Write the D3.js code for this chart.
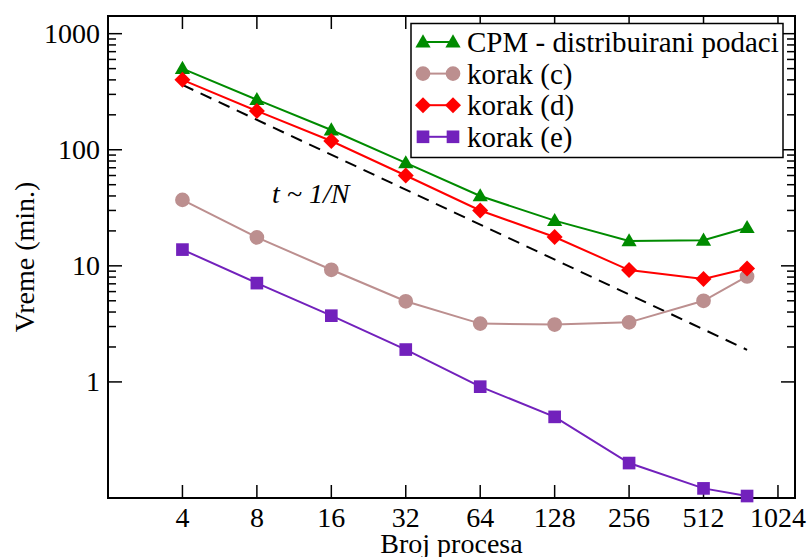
<!DOCTYPE html>
<html><head><meta charset="utf-8">
<script src="https://cdn.jsdelivr.net/npm/d3@7"></script>
<style>body{margin:0;background:#fff}svg{display:block}
svg text{font-family:"Liberation Serif","Times New Roman",Times,"DejaVu Serif",serif;}</style>
</head><body><svg id="c" width="809" height="557"></svg>
<script>
const procs = [4, 8, 16, 32, 64, 128, 256, 512, 768];
const cpm   = [500, 270, 148, 77, 40, 24.5, 16.4, 16.6, 21.3];
const korakC = [37, 17.6, 9.25, 4.95, 3.18, 3.12, 3.26, 5.0, 8.1];
const korakD = [400, 216, 119, 60, 30, 17.7, 9.2, 7.7, 9.5];
const korakE = [13.8, 7.1, 3.72, 1.9, 0.91, 0.50, 0.20, 0.121, 0.104];
const refN = [4, 768];
const refT = [362, 1.89];
const xTicks = [4, 8, 16, 32, 64, 128, 256, 512, 1024];
const yTicks = [1, 10, 100, 1000];
const seriesNames = ["CPM - distribuirani podaci", "korak (c)", "korak (d)", "korak (e)"];
const seriesColors = ["#008b00", "#bc8f8f", "#ff0000", "#7221bc"];
const seriesShapes = ["triangle", "circle", "diamond", "square"];
const seriesData = [cpm, korakC, korakD, korakE];

const svg = d3.select("#c");
const L = 108, T = 16, R = 795, B = 498;
const x = d3.scaleLog().base(2).domain([2, 1200]).range([L, R]);
const y = d3.scaleLog().domain([0.1, 1420]).range([B, T]);

const minor = [];
[1, 10, 100].forEach(d => { for (let k = 2; k <= 9; k++) minor.push(d * k); });

const g = svg.append("g");
minor.forEach(v => {
  g.append("line").attr("x1", L).attr("x2", L + 8).attr("y1", y(v)).attr("y2", y(v)).attr("stroke", "#000").attr("stroke-width", 1.5);
  g.append("line").attr("x1", R).attr("x2", R - 8).attr("y1", y(v)).attr("y2", y(v)).attr("stroke", "#000").attr("stroke-width", 1.5);
});
yTicks.forEach(v => {
  g.append("line").attr("x1", L).attr("x2", L + 14).attr("y1", y(v)).attr("y2", y(v)).attr("stroke", "#000").attr("stroke-width", 1.5);
  g.append("line").attr("x1", R).attr("x2", R - 14).attr("y1", y(v)).attr("y2", y(v)).attr("stroke", "#000").attr("stroke-width", 1.5);
  g.append("text").attr("x", L - 8).attr("y", y(v)).attr("dy", "0.34em").attr("text-anchor", "end")
    .attr("font-size", 28).text(v);
});
xTicks.forEach(v => {
  g.append("line").attr("x1", x(v)).attr("x2", x(v)).attr("y1", B).attr("y2", B - 13).attr("stroke", "#000").attr("stroke-width", 1.5);
  g.append("line").attr("x1", x(v)).attr("x2", x(v)).attr("y1", T).attr("y2", T + 13).attr("stroke", "#000").attr("stroke-width", 1.5);
  g.append("text").attr("x", x(v)).attr("y", 527).attr("text-anchor", "middle")
    .attr("font-size", 28).text(v);
});

g.append("rect").attr("x", L).attr("y", T).attr("width", R - L).attr("height", B - T)
  .attr("fill", "none").attr("stroke", "#000").attr("stroke-width", 2);

svg.append("text").attr("x", (L + R) / 2).attr("y", 553).attr("text-anchor", "middle")
  .attr("font-size", 28).text("Broj procesa");
svg.append("text").attr("transform", "translate(34," + ((T + B) / 2) + ") rotate(-90)")
  .attr("text-anchor", "middle").attr("font-size", 28).text("Vreme (min.)");

const line = d3.line().x(d => x(d[0])).y(d => y(d[1]));
svg.append("path").attr("d", line(refN.map((n, i) => [n, refT[i]])))
  .attr("fill", "none").attr("stroke", "#000").attr("stroke-width", 2).attr("stroke-dasharray", "12,8");
svg.append("text").attr("x", 272).attr("y", 203).attr("font-style", "italic")
  .attr("font-size", 28).text("t ~ 1/N");

function symbolPath(shape) {
  if (shape === "triangle") return d3.symbol(d3.symbolTriangle, 100)();
  if (shape === "circle") return d3.symbol(d3.symbolCircle, 170)();
  if (shape === "diamond") return "M0,-8L8,0L0,8L-8,0Z";
  return d3.symbol(d3.symbolSquare, 160)();
}

seriesData.forEach((vals, i) => {
  svg.append("path").attr("d", line(procs.map((n, j) => [n, vals[j]])))
    .attr("fill", "none").attr("stroke", seriesColors[i]).attr("stroke-width", 2);
});
seriesData.forEach((vals, i) => {
  svg.append("g").selectAll("path").data(procs).join("path")
    .attr("transform", (n, j) => `translate(${x(n)},${y(vals[j]) + (seriesShapes[i] === "triangle" ? 1 : 0)})`)
    .attr("d", symbolPath(seriesShapes[i])).attr("fill", seriesColors[i]);
});

const lg = svg.append("g");
lg.append("rect").attr("x", 411).attr("y", 23.5).attr("width", 372).attr("height", 134)
  .attr("fill", "#fff").attr("stroke", "#000").attr("stroke-width", 1.5);
seriesNames.forEach((name, i) => {
  const cy = 42 + i * 31.6;
  lg.append("line").attr("x1", 423).attr("x2", 453).attr("y1", cy).attr("y2", cy)
    .attr("stroke", seriesColors[i]).attr("stroke-width", 2);
  [423, 453].forEach(cx => lg.append("path").attr("transform", `translate(${cx},${cy + (seriesShapes[i] === "triangle" ? 1 : 0)})`)
    .attr("d", symbolPath(seriesShapes[i])).attr("fill", seriesColors[i]));
  lg.append("text").attr("x", 467).attr("y", cy + 10).attr("font-size", 29).text(name);
});
</script></body></html>
